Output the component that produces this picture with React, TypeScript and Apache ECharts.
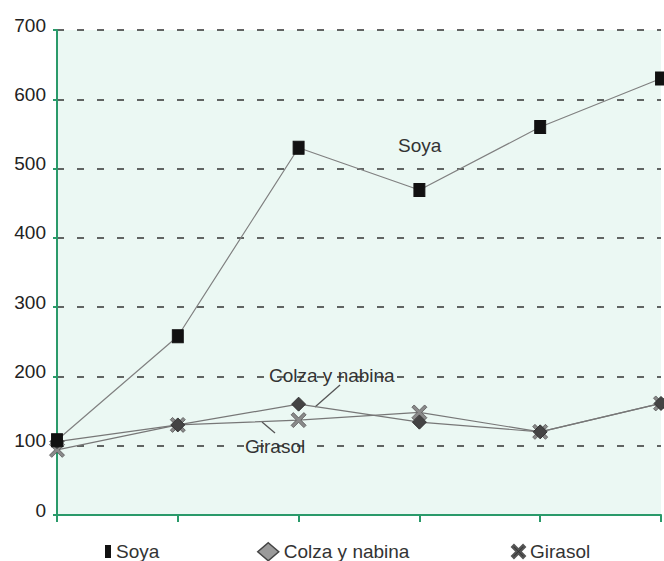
import React, { useEffect, useRef } from "react";
import * as echarts from "echarts";

const categories = ["1", "2", "3", "4", "5", "6"];
const soya = [108, 258, 530, 469, 560, 630];
const colza = [106, 130, 160, 134, 120, 161];
const girasol = [94, 130, 137, 148, 120, 161];
const yTicks = [0, 100, 200, 300, 400, 500, 600, 700];

const X_PATH =
  "path://M0,1.5 L1.5,0 L5,3.5 L8.5,0 L10,1.5 L6.5,5 L10,8.5 L8.5,10 L5,6.5 L1.5,10 L0,8.5 L3.5,5 Z";
const FONT = "Liberation Sans, Arial, sans-serif";
const PLOT_BG = "#ebf8f3";

export default function App() {
  const ref = useRef<HTMLDivElement>(null);
  useEffect(() => {
    if (!ref.current) return;
    const chart = echarts.init(ref.current, null, { renderer: "svg" });
    const legendText = { fontSize: 19, color: "#333", fontFamily: FONT };
    chart.setOption({
      animation: false,
      backgroundColor: "#ffffff",
      grid: {
        left: 57,
        right: 3,
        top: 30,
        bottom: 46,
        show: true,
        backgroundColor: PLOT_BG,
        borderWidth: 0,
      },
      xAxis: {
        type: "category",
        data: categories,
        boundaryGap: false,
        axisLine: { lineStyle: { color: "#2a9a6a", width: 2 } },
        axisTick: { show: true, length: 7, alignWithLabel: true, lineStyle: { color: "#2a9a6a", width: 2 } },
        axisLabel: { show: false },
        splitLine: { show: false },
      },
      yAxis: {
        type: "value",
        min: 0,
        max: 700,
        interval: 100,
        axisLine: { show: true, lineStyle: { color: "#2a9a6a", width: 2 } },
        axisTick: { show: true, length: 4, lineStyle: { color: "#2a9a6a", width: 2 } },
        axisLabel: {
          color: "#222",
          fontSize: 19,
          fontFamily: FONT,
          margin: 11,
          verticalAlign: "bottom",
          lineHeight: 10,
          formatter: (v: number) => (yTicks.includes(v) ? String(v) : ""),
        },
        splitLine: { show: true, lineStyle: { color: "#333", type: [7, 13], width: 1.5 } },
      },
      legend: [
        {
          data: [{ name: "Soya", icon: "rect", itemStyle: { color: "#111" } }],
          left: 100,
          top: 537,
          itemWidth: 6,
          itemHeight: 13,
          itemGap: 4,
          textStyle: legendText,
        },
        {
          data: [{ name: "Colza y nabina", icon: "diamond", itemStyle: { color: "#9a9a9a", borderColor: "#444", borderWidth: 1.5 } }],
          left: 252,
          top: 537,
          itemWidth: 21,
          itemHeight: 18,
          textStyle: legendText,
        },
        {
          data: [{ name: "Girasol", icon: X_PATH, itemStyle: { color: "#333" } }],
          left: 506,
          top: 537,
          itemWidth: 13,
          itemHeight: 13,
          textStyle: legendText,
        },
      ],
      series: [
        {
          name: "Girasol",
          type: "line",
          data: girasol,
          symbol: X_PATH,
          symbolSize: 15,
          itemStyle: { color: "#8a8a8a", borderColor: "#555", borderWidth: 0.8 },
          lineStyle: { color: "#777", width: 1.2 },
        },
        {
          name: "Colza y nabina",
          type: "line",
          data: colza,
          symbol: "diamond",
          symbolSize: 14,
          itemStyle: { color: "#444", borderColor: "#333", borderWidth: 1 },
          lineStyle: { color: "#777", width: 1.2 },
        },
        {
          name: "Soya",
          type: "line",
          data: soya,
          symbol: "rect",
          symbolSize: [11, 13],
          itemStyle: { color: "#111", borderColor: "#111" },
          lineStyle: { color: "#808080", width: 1.2 },
        },
      ],
      graphic: [
        { type: "text", x: 398, y: 145, style: { text: "Soya", fontSize: 19, fill: "#333", fontFamily: FONT, verticalAlign: "middle" } },
        {
          type: "text",
          x: 266,
          y: 375,
          style: {
            text: "Colza y nabina",
            fontSize: 19,
            fill: "#333",
            fontFamily: FONT,
            verticalAlign: "middle",
            backgroundColor: PLOT_BG,
            padding: [0, 3, 0, 3],
          },
        },
        { type: "line", shape: { x1: 315, y1: 407, x2: 340, y2: 385 }, style: { stroke: "#555", lineWidth: 1.3 } },
        {
          type: "text",
          x: 242,
          y: 446,
          style: {
            text: "Girasol",
            fontSize: 19,
            fill: "#333",
            fontFamily: FONT,
            verticalAlign: "middle",
            backgroundColor: PLOT_BG,
            padding: [0, 3, 0, 3],
          },
        },
        { type: "line", shape: { x1: 262, y1: 422, x2: 275, y2: 433 }, style: { stroke: "#555", lineWidth: 1.3 } },
      ],
    });
    return () => chart.dispose();
  }, []);
  return <div ref={ref} style={{ width: 664, height: 561, position: "absolute", left: 0, top: 0 }} />;
}
